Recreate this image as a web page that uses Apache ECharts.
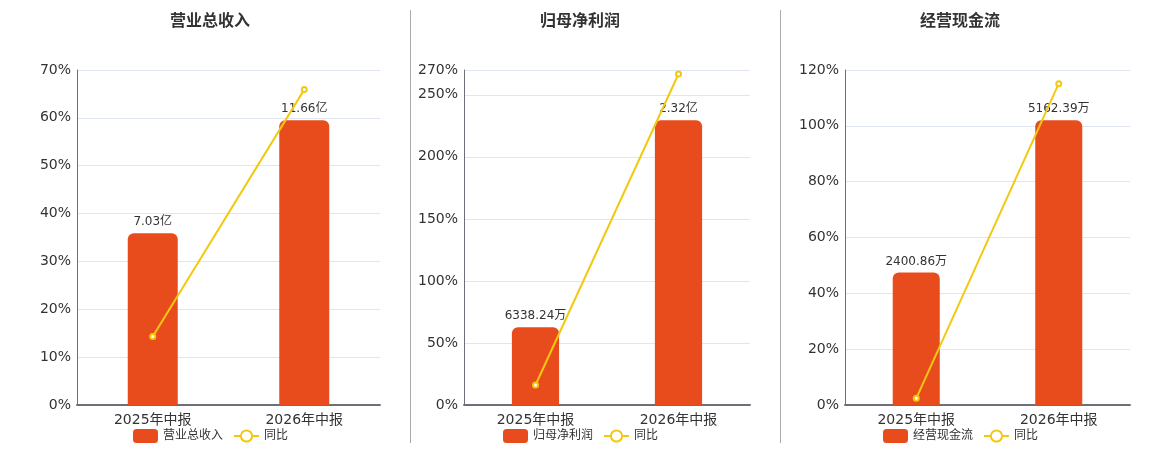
<!DOCTYPE html>
<html>
<head>
<meta charset="utf-8">
<script src="https://cdn.jsdelivr.net/npm/echarts@6/dist/echarts.min.js"></script>
<style>
  html, body { margin: 0; padding: 0; background: #fff; }
  #main { width: 1160px; height: 450px; }
</style>
</head>
<body>
<div id="main"></div>
<script>
// 数据
var categories = ['2025年中报', '2026年中报'];
var titles = ['营业总收入', '归母净利润', '经营现金流'];
var revenue = [7.03e8, 11.66e8];
var netProfit = [6338.24e4, 2.32e8];
var cashFlow = [2400.86e4, 5162.39e4];
var revenueYoy = [14.3, 65.9];
var netProfitYoy = [16.1, 266.8];
var cashFlowYoy = [2.4, 115.1];
var pctMax = [70, 270, 120];
var pctInterval = [10, 50, 20];

var barData = [revenue, netProfit, cashFlow];
var yoyData = [revenueYoy, netProfitYoy, cashFlowYoy];

// 面板位置
var panels = [
  { center: 210, gridLeft: 77, gridWidth: 303 },
  { center: 580, gridLeft: 464, gridWidth: 286 },
  { center: 960, gridLeft: 845, gridWidth: 285 }
];

function fmtMoney(v) {
  if (Math.abs(v) >= 1e8) return (v / 1e8).toFixed(2) + '亿';
  return (v / 1e4).toFixed(2) + '万';
}

var myChart = echarts.init(document.getElementById('main'));

var option = {
  animation: false,
  textStyle: { fontFamily: '"DejaVu Sans", "Noto Sans CJK SC", sans-serif' },
  title: [],
  legend: [],
  grid: [],
  xAxis: [],
  yAxis: [],
  series: [],
  graphic: [
    { type: 'line', shape: { x1: 410.5, y1: 10, x2: 410.5, y2: 443 }, style: { stroke: '#aaaaaa', lineWidth: 1 } },
    { type: 'line', shape: { x1: 780.5, y1: 10, x2: 780.5, y2: 443 }, style: { stroke: '#aaaaaa', lineWidth: 1 } }
  ]
};

panels.forEach(function (p, i) {
  option.title.push({
    text: titles[i],
    left: p.center - 40,
    top: 14,
    padding: 0,
    textStyle: { fontSize: 16, fontWeight: 'bold', color: '#333' }
  });
  option.legend.push({
    data: [titles[i], '同比'],
    left: p.center - 77,
    top: 429,
    padding: 0,
    itemWidth: 25,
    itemHeight: 14,
    itemGap: 10,
    textStyle: { fontSize: 12, color: '#333' }
  });
  option.grid.push({
    left: p.gridLeft,
    top: 70,
    width: p.gridWidth,
    height: 335
  });
  option.xAxis.push({
    type: 'category',
    gridIndex: i,
    data: categories,
    axisLine: { lineStyle: { color: '#6E7079', width: 2 } },
    axisTick: { lineStyle: { color: '#6E7079' } },
    axisLabel: { fontSize: 14, color: '#333', margin: 8 }
  });
  option.yAxis.push({
    type: 'value',
    gridIndex: i,
    min: 0,
    max: pctMax[i],
    interval: pctInterval[i],
    axisLine: { show: true, lineStyle: { color: '#6E7079' } },
    axisTick: { show: false },
    axisLabel: { fontSize: 14, color: '#333', margin: 6, formatter: '{value}%' },
    splitLine: { lineStyle: { color: '#E0E6F1' } }
  });
  option.yAxis.push({
    type: 'value',
    gridIndex: i,
    show: false,
    min: 0,
    max: function (value) { return value.max / 0.85; },
    splitLine: { show: false }
  });
  option.series.push({
    name: titles[i],
    type: 'bar',
    xAxisIndex: i,
    yAxisIndex: i * 2 + 1,
    barWidth: '33%',
    data: barData[i],
    itemStyle: { color: '#E84C1D', borderRadius: [6, 6, 0, 0] },
    label: {
      show: true,
      position: 'top',
      distance: 5,
      fontSize: 12,
      color: '#333',
      formatter: function (params) { return fmtMoney(params.value); }
    }
  });
  option.series.push({
    name: '同比',
    type: 'line',
    xAxisIndex: i,
    yAxisIndex: i * 2,
    data: yoyData[i],
    symbol: 'emptyCircle',
    symbolSize: 5,
    lineStyle: { color: '#F2C811', width: 2 },
    itemStyle: { color: '#F2C811' },
    z: 3
  });
});

myChart.setOption(option);
window.addEventListener('resize', function () {
  myChart.resize();
});
</script>
</body>
</html>
